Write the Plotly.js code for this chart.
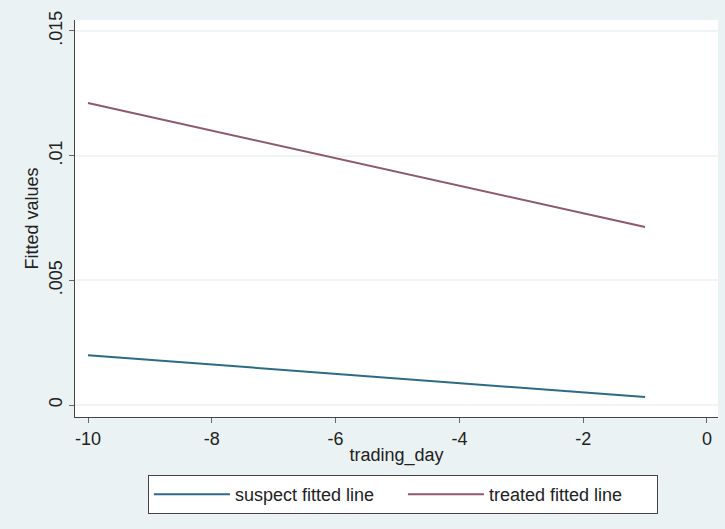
<!DOCTYPE html>
<html>
<head>
<meta charset="utf-8">
<script src="https://cdn.plot.ly/plotly-3.0.1.min.js"></script>
<style>html,body{margin:0;padding:0;background:#eaf2f3;}#chart{width:725px;height:529px;}</style>
</head>
<body>
<div id="chart"></div>
<script>
// Data
const tradingDay = [-10, -1];
const suspectFitted = [0.00200, 0.00032];
const treatedFitted = [0.01211, 0.00714];
const seriesNames = ["suspect fitted line", "treated fitted line"];
const xTickVals = [-10, -8, -6, -4, -2, 0];
const xTickText = ["-10", "-8", "-6", "-4", "-2", "0"];
const yTickVals = [0, 0.005, 0.01, 0.015];
const yTickText = ["0", ".005", ".01", ".015"];

const traces = [
  {x: tradingDay, y: suspectFitted, mode: "lines", name: seriesNames[0],
   line: {color: "#2d6a86", width: 2}},
  {x: tradingDay, y: treatedFitted, mode: "lines", name: seriesNames[1],
   line: {color: "#8e5a6a", width: 2}}
];

const font = "Liberation Sans, Arial, sans-serif";
const layout = {
  width: 725, height: 529,
  margin: {l: 75, r: 7, t: 20, b: 112},
  paper_bgcolor: "#eaf2f3",
  plot_bgcolor: "#ffffff",
  font: {family: font, color: "#222", size: 18},
  showlegend: true,
  xaxis: {
    range: [-10.21, 0.178],
    tickvals: xTickVals, ticktext: xTickText,
    ticks: "outside", ticklen: 5, tickcolor: "#666", tickwidth: 1,
    ticklabelstandoff: 0,
    showline: true, linecolor: "#444", linewidth: 1,
    showgrid: false, zeroline: false,
    tickfont: {size: 18, color: "#222"},
    title: {text: "trading_day", font: {size: 18, color: "#222"}, standoff: 0}
  },
  yaxis: {
    range: [-0.00048, 0.01544],
    tickvals: yTickVals, ticktext: yTickText,
    tickangle: -90,
    ticks: "outside", ticklen: 5, tickcolor: "#666", tickwidth: 1,
    showline: true, linecolor: "#444", linewidth: 1,
    showgrid: true, gridcolor: "#eff4f5", gridwidth: 2,
    zeroline: false,
    tickfont: {size: 18, color: "#222"},
    title: {text: "Fitted values", font: {size: 18, color: "#222"}, standoff: 2}
  },
  legend: {
    orientation: "h",
    x: 0.51, xanchor: "center", xref: "paper",
    y: -0.146, yanchor: "top", yref: "paper",
    bgcolor: "#ffffff", bordercolor: "#444", borderwidth: 1,
    font: {size: 18, color: "#222"},
    itemwidth: 76,
    entrywidth: 163
  }
};

Plotly.newPlot("chart", traces, layout, {displayModeBar: false, staticPlot: true});
</script>
</body>
</html>
